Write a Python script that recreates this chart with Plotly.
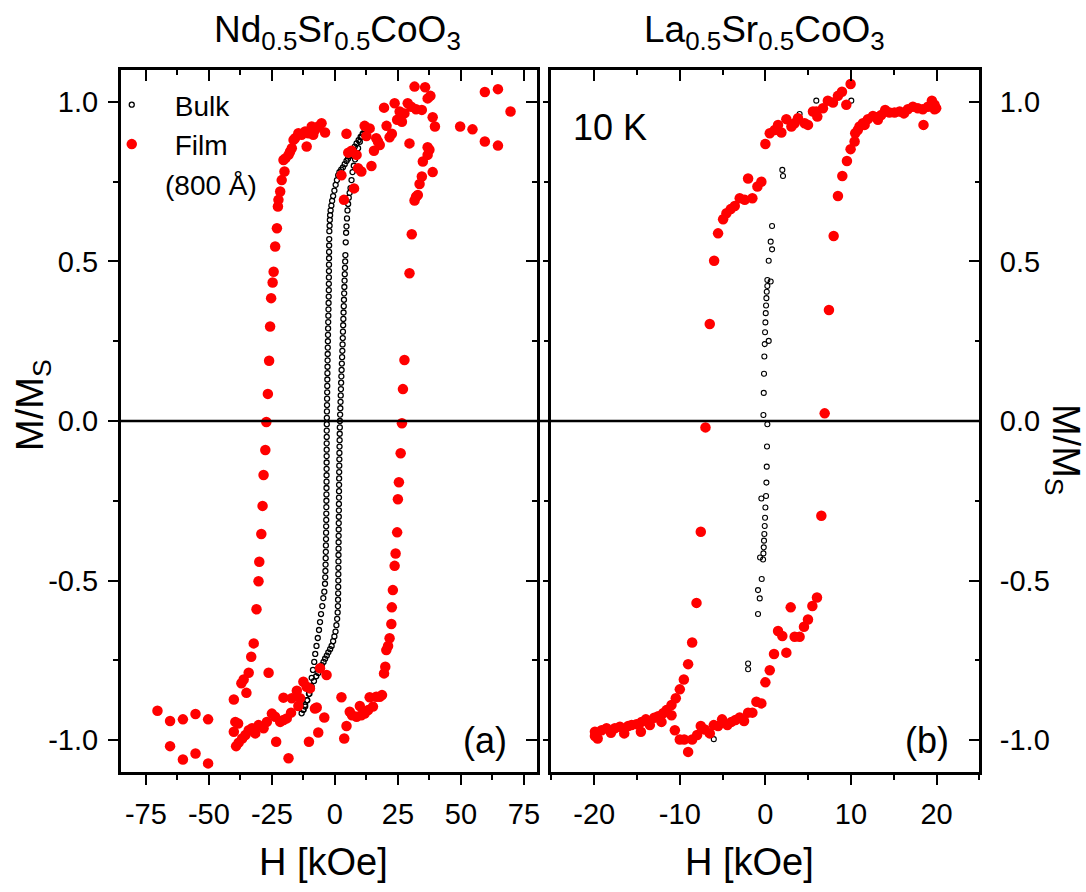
import plotly.graph_objects as go

# ---------------- data ----------------
# Panel (a): Nd0.5Sr0.5CoO3, bulk loop (descending branch then ascending branch)
bulk_a_x = [
    11.8, 11.0, 10.2, 9.4, 8.6, 7.9, 7.2, 6.5, 5.8, 5.2, 4.6, 3.9, 3.2, 2.5, 1.8, 1.3, 0.8, 0.3, -0.2, -0.7,
    -1.1, -1.4, -1.7, -1.9, -2.0, -2.1, -2.2,
    -2.25, -2.28, -2.30, -2.32, -2.34, -2.36, -2.38, -2.40, -2.42, -2.45, -2.50, -2.55, -2.60, -2.65, -2.70,
    -2.74, -2.78, -2.82, -2.86, -2.90, -2.93, -2.96, -3.00, -3.03, -3.06, -3.10, -3.13, -3.16, -3.19, -3.21,
    -3.23, -3.24, -3.25, -3.26, -3.27, -3.28, -3.29, -3.30, -3.31, -3.33, -3.35, -3.37, -3.39, -3.41, -3.43,
    -3.46, -3.49, -3.52, -3.56, -3.60, -3.65, -3.70, -3.76, -3.83, -3.92,
    -4.2, -4.6, -5.0, -5.5, -5.9, -6.3, -6.8, -7.3, -7.8, -8.2, -8.7, -9.2, -9.7, -10.3, -11.0, -11.8, -12.5,
    -13.2,
    -12.5, -11.8, -11.0, -10.1, -9.2, -8.3, -7.4, -6.6, -5.9, -5.2, -4.5, -3.9, -3.2, -2.6, -1.9, -1.3, -0.7,
    -0.2, 0.25, 0.6, 0.9, 1.1, 1.2, 1.25, 1.3,
    1.32, 1.35, 1.37, 1.39, 1.41, 1.43, 1.45, 1.47, 1.49, 1.51, 1.53, 1.56, 1.58, 1.60, 1.62, 1.64, 1.66,
    1.68, 1.71, 1.74, 1.77, 1.80, 1.84, 1.88, 1.92, 1.96, 2.00, 2.08, 2.16, 2.24, 2.32, 2.40, 2.48, 2.56,
    2.66, 2.76, 2.86, 2.96, 3.05, 3.13, 3.20, 3.28, 3.36, 3.44, 3.52, 3.60, 3.68, 3.76, 3.84, 3.92, 4.00,
    4.08, 4.16,
    4.3, 4.45, 4.6, 4.8, 5.0, 5.25, 5.5, 5.85, 6.2, 6.6, 7.0, 7.5, 8.0, 8.5, 9.2, 9.9, 10.6, 11.2,
]
bulk_a_y = [
    0.910, 0.900, 0.890, 0.880, 0.870, 0.860, 0.850, 0.840, 0.830, 0.822, 0.815, 0.805, 0.795, 0.788, 0.780,
    0.770, 0.755, 0.740, 0.722, 0.705, 0.690, 0.675, 0.660, 0.645, 0.630, 0.612, 0.595,
    0.57, 0.55, 0.53, 0.51, 0.49, 0.47, 0.45, 0.43, 0.41, 0.39, 0.37, 0.35, 0.33, 0.31, 0.29, 0.27, 0.25,
    0.23, 0.21, 0.19, 0.17, 0.15, 0.13, 0.11, 0.09, 0.07, 0.05, 0.03, 0.01, -0.01, -0.03, -0.05, -0.07,
    -0.09, -0.11, -0.13, -0.15, -0.17, -0.19, -0.21, -0.23, -0.25, -0.27, -0.29, -0.31, -0.33, -0.35, -0.37,
    -0.39, -0.41, -0.43, -0.45, -0.47, -0.49, -0.51,
    -0.535, -0.555, -0.58, -0.605, -0.63, -0.655, -0.68, -0.705, -0.73, -0.755, -0.78, -0.805, -0.83, -0.855,
    -0.875, -0.895, -0.905, -0.916,
    -0.905, -0.89, -0.875, -0.855, -0.833, -0.815, -0.80, -0.79, -0.775, -0.765, -0.755, -0.745, -0.735,
    -0.725, -0.715, -0.705, -0.69, -0.675, -0.66, -0.64, -0.62, -0.60, -0.58, -0.56, -0.54,
    -0.52, -0.50, -0.48, -0.46, -0.44, -0.42, -0.40, -0.38, -0.36, -0.34, -0.32, -0.30, -0.28, -0.26, -0.24,
    -0.22, -0.20, -0.18, -0.16, -0.14, -0.12, -0.10, -0.08, -0.06, -0.04, -0.02, 0.00, 0.02, 0.04, 0.06,
    0.08, 0.10, 0.12, 0.14, 0.16, 0.18, 0.20, 0.22, 0.24, 0.26, 0.28, 0.30, 0.32, 0.34, 0.36, 0.38, 0.40,
    0.42, 0.44, 0.46, 0.48, 0.50, 0.52,
    0.56, 0.59, 0.61, 0.635, 0.66, 0.68, 0.70, 0.715, 0.73, 0.755, 0.78, 0.80, 0.82, 0.835, 0.855, 0.875,
    0.89, 0.90,
]

# Panel (a): film (800 A)
film_a_x = [
    -14.5, -15.8, -16.4, -13.2, -11.8, -10.5, -9.2, -7.9, -6.6, -5.3, -3.9, -8.6, -11.2, -17.1, -17.8, -18.4,
    -19.7, -20.4, -20.0, -21.1, -21.7, -22.4, -22.6, -23.0, -23.7, -24.3, -24.7, -25.3, -25.7, -26.1, -26.6,
    -27.2, -27.6, -28.3, -28.7, -29.2, -30.0, -30.3, -31.1, -32.2, -33.2, -34.2, -26.3, -36.2, -37.1, -35.1,
    -40.1, -39.5, -38.4, -40.1, -39.2, -38.2, -36.8, -35.5, -34.2, -32.9, -31.6, -30.3, -28.3, -27.0, -25.0,
    -23.7, -21.7, -20.4, -19.1, -17.4, -20.4, -17.1, -15.1, -13.8, -14.5, -12.5, -11.2, -9.9, -7.9, -7.2,
    -5.9, -3.3, -4.2, -6.6, -10.3, -23.3, -18.4,
    2.6, 4.6, 3.7, 5.9, 6.8, 8.6, 9.9, 10.5, 11.8, 13.2, 13.8, 15.1, 16.4, 17.8, 18.7, 19.5, 20.0, 20.4,
    21.1, 21.7, 22.4, 22.6, 23.0, 23.7, 24.1, 24.7, 25.0, 25.4, 26.1, 26.6,
    -70.4, -65.4, -60.3, -55.3, -50.3, -65.4, -60.3, -55.3, -50.3,
    27.0, 27.6, 29.6, 30.5, 31.6, 32.2, 32.9, 33.6, 34.5, 38.8, 34.9, 36.8, 37.5, 36.8, 29.6, 39.7, 38.8,
    34.5, 32.2, 30.3, 28.9, 27.6, 25.7, 26.6, 24.7, 22.6, 21.7, 20.5, 19.5, 23.7, 31.6, 35.8, 36.8, 37.9,
    49.7, 54.6, 59.5, 64.7, 59.5, 64.7, 69.7,
    17.8, 16.4, 17.1, 15.5, 14.5, 13.8, 11.8, 12.5, 10.5, 9.2, 7.6, 8.6, 6.6, 5.3, 4.6, 2.6, 3.6,
]
film_a_y = [
    0.902, 0.886, 0.881, 0.897, 0.907, 0.902, 0.923, 0.912, 0.923, 0.933, 0.904, 0.897, 0.860, 0.855, 0.844,
    0.834, 0.823, 0.818, 0.782, 0.755, 0.719, 0.693, 0.672, 0.604, 0.547, 0.468, 0.434, 0.385, 0.296, 0.189,
    0.085, -0.003, -0.091, -0.169, -0.266, -0.354, -0.441, -0.502, -0.590, -0.697, -0.739, -0.789, -0.789,
    -0.810, -0.822, -0.852, -0.873, -0.943, -0.948, -0.974, -1.019, -1.008, -0.995, -0.984, -0.969, -0.963,
    -0.979, -0.953, -0.963, -0.943, -0.917, -0.927, -0.943, -0.937, -0.932, -0.914, -0.867, -0.869, -0.845,
    -0.869, -0.893, -0.817, -0.833, -0.838, -0.901, -0.898, -0.775, -0.796, -0.929, -0.976, -1.005, -1.005,
    -1.057,
    -0.866, -0.956, -0.995, -0.911, -0.922, -0.927, -0.893, -0.922, -0.917, -0.906, -0.866, -0.895, -0.864,
    -0.864, -0.859, -0.791, -0.770, -0.718, -0.705, -0.681, -0.636, -0.584, -0.530, -0.454, -0.415, -0.349,
    -0.245, -0.192, -0.101, -0.007,
    -0.908, -0.940, -0.935, -0.918, -0.935, -1.019, -1.061, -1.042, -1.073,
    0.100, 0.191, 0.463, 0.585, 0.691, 0.703, 0.708, 0.743, 0.766, 0.780, 0.813, 0.834, 0.850, 0.858, 0.870,
    0.923, 0.952, 0.975, 0.977, 0.985, 0.996, 0.964, 0.970, 0.938, 0.944, 0.900, 0.889, 0.925, 0.982, 0.996,
    1.048, 1.046, 1.011, 1.019,
    0.923, 0.914, 0.876, 0.863, 1.031, 1.040, 0.970,
    0.865, 0.886, 0.876, 0.847, 0.799, 0.917, 0.925, 0.893, 0.782, 0.792, 0.729, 0.834, 0.847, 0.841, 0.900,
    0.770, 0.693,
]

# Panel (b): La0.5Sr0.5CoO3 bulk
bulk_b_x = [
    5.95, 10.04, 4.0, 1.98, 2.06, 0.78, 0.62, 0.78, 0.39, 0.23, 0.62, 0.23, 0.16, 0.12, 0.08, 0.04, 0.0,
    -0.04, 0.39, -0.08, -0.12, -0.16, -0.19, -0.23, 0.23, 0.19, 0.16, 0.12, 0.08, -0.47, 0.0, -0.04, -0.08,
    -0.12, -0.16, -0.19, -0.23, -0.62, -0.27, -0.43, -0.86, -0.66, -0.86, -2.02, -2.02, -6.03,
]
bulk_b_y = [
    1.004, 1.004, 0.962, 0.787, 0.768, 0.611, 0.562, 0.538, 0.502, 0.442, 0.437, 0.423, 0.405, 0.385, 0.362,
    0.338, 0.309, 0.278, 0.251, 0.241, 0.202, 0.148, 0.088, 0.019, -0.010, -0.080, -0.143, -0.193, -0.235,
    -0.243, -0.271, -0.303, -0.329, -0.354, -0.375, -0.396, -0.415, -0.428, -0.434, -0.495, -0.530, -0.556,
    -0.605, -0.760, -0.778, -0.997,
]

# Panel (b): film at 10 K
film_b_x = [
    9.96, 8.95, 8.48, 7.9, 7.3, 9.46, 6.73, 5.95, 5.56, 6.07, 4.98, 4.59, 3.81, 3.42, 3.04, 2.45, 1.87, 1.48,
    1.09, 0.51, 0.0, -0.47, -0.93, -2.02, -1.52, -2.41, -3.0, -3.58, -4.05, -4.55, -4.94, -5.53, -5.99, -6.5,
    -7.0, -7.55, -8.05, -8.56, -9.03, -9.53, -10.0, -10.47, -10.97, -10.97, -11.56, -11.95, -12.14, -12.53,
    -12.99, -13.5, -13.97, -14.47, -14.55, -15.06, -15.64, -16.03, -16.5, -17.0, -17.59, -18.05, -18.56,
    -19.14, -19.6, -19.92, -19.92,
    -10.58, -10.0, -9.49, -9.03, -8.56, -7.98, -7.55, -7.08, -6.5, -6.03, -5.53, -5.06, -4.44, -3.97, -3.5,
    -3.0, -2.49, -2.02, -1.52, -1.05, -0.47, 0.0, 0.51, 1.01, 1.48, 1.98, 2.45, 2.96, 3.42, 4.0, 4.51, 4.98,
    5.49, 6.03, 6.54, 6.93, 7.43, 7.98, 8.48, 8.99, 9.53, 9.96, 10.43, 10.5, 11.0, 11.4, 11.98, 12.57, 12.96,
    13.54, 14.0, 14.5, 15.1, 15.7, 16.19, 16.65, 17.24, 17.82, 18.4, 18.48, 18.99, 19.46, 19.77, 19.96,
    19.77, 10.8, 11.6, 13.15,
]
film_b_y = [
    1.056, 1.032, 1.019, 0.998, 1.004, 0.991, 0.980, 0.970, 0.970, 0.954, 0.928, 0.933, 0.949, 0.933, 0.923,
    0.946, 0.904, 0.928, 0.912, 0.902, 0.868, 0.750, 0.735, 0.760, 0.698, 0.693, 0.698, 0.674, 0.664, 0.651,
    0.632, 0.588, 0.502, 0.304, -0.020, -0.347, -0.570, -0.694, -0.762, -0.810, -0.841, -0.869, -0.890,
    -0.922, -0.906, -0.916, -0.943, -0.925, -0.930, -0.953, -0.935, -0.943, -0.974, -0.950, -0.953, -0.956,
    -0.979, -0.958, -0.963, -0.977, -0.963, -0.969, -0.995, -0.974, -0.987,
    -0.969, -0.998, -0.998, -1.037, -0.998, -0.984, -0.956, -0.967, -0.979, -0.953, -0.956, -0.935, -0.953,
    -0.943, -0.937, -0.929, -0.940, -0.914, -0.914, -0.880, -0.885, -0.819, -0.781, -0.730, -0.658, -0.674,
    -0.726, -0.584, -0.676, -0.676, -0.645, -0.622, -0.580, -0.553, -0.297, 0.024, 0.348, 0.580, 0.705, 0.768,
    0.815, 0.852, 0.876, 0.902, 0.923, 0.933, 0.946, 0.956, 0.952, 0.959, 0.975, 0.967, 0.967, 0.970, 0.964,
    0.977, 0.985, 0.980, 0.977, 0.928, 0.985, 1.004, 0.991, 0.980, 0.977, 0.912, 0.928, 0.944,
]

# ticks
xa_ticks = [-75, -50, -25, 0, 25, 50, 75]
xa_labels = ["-75", "-50", "-25", "0", "25", "50", "75"]
xa_minor = [-62.5, -37.5, -12.5, 12.5, 37.5, 62.5]
xb_ticks = [-20, -10, 0, 10, 20]
xb_labels = ["-20", "-10", "0", "10", "20"]
xb_minor = [-25, -15, -5, 5, 15, 25]
y_ticks = [-1.0, -0.5, 0.0, 0.5, 1.0]
y_labels = ["-1.0", "-0.5", "0.0", "0.5", "1.0"]
y_minor = [-0.75, -0.25, 0.25, 0.75]

# ---------------- figure ----------------
W, H = 1086, 892
FONT = "Liberation Sans"


def px(x):
    return x / W


def py(y):
    return 1 - y / H


dom_a = [121 / W, 538 / W]
dom_b = [553 / W, 982 / W]
dom_y = [(H - 772) / H, (H - 70) / H]

fig = go.Figure()
fig.add_trace(go.Scatter(x=bulk_a_x, y=bulk_a_y, xaxis="x", yaxis="y", mode="markers", name="Bulk",
                         legendgroup="g1",
                         marker=dict(symbol="circle-open", size=5, color="black", line=dict(width=1.3))))
fig.add_trace(go.Scatter(x=film_a_x, y=film_a_y, xaxis="x", yaxis="y", mode="markers", name="Film",
                         legendgroup="g2",
                         marker=dict(symbol="circle", size=10.5, color="#ff0000")))
fig.add_trace(go.Scatter(x=bulk_b_x, y=bulk_b_y, xaxis="x2", yaxis="y2", mode="markers", showlegend=False,
                         marker=dict(symbol="circle-open", size=5, color="black", line=dict(width=1.1))))
fig.add_trace(go.Scatter(x=film_b_x, y=film_b_y, xaxis="x2", yaxis="y2", mode="markers", showlegend=False,
                         marker=dict(symbol="circle", size=10.5, color="#ff0000")))
# empty traces so that the mirrored (top / right) axes are drawn
for xa, ya in [("x3", "y"), ("x", "y3"), ("x4", "y2"), ("x2", "y4")]:
    fig.add_trace(go.Scatter(x=[], y=[], xaxis=xa, yaxis=ya, mode="markers", showlegend=False,
                             hoverinfo="skip"))

common = dict(showline=True, linewidth=2.5, linecolor="black", showgrid=False, zeroline=False,
              tickwidth=2, tickcolor="black", tickfont=dict(family=FONT, size=29, color="black"),
              tickmode="array")


def minor(vals, ticks):
    return dict(tickmode="array", tickvals=vals, ticks=ticks, ticklen=5, tickwidth=2, tickcolor="black",
                showgrid=False)


fig.update_layout(
    width=W, height=H, margin=dict(l=0, r=0, t=0, b=0),
    paper_bgcolor="white", plot_bgcolor="rgba(0,0,0,0)",
    font=dict(family=FONT, color="black"),
    xaxis=dict(domain=dom_a, anchor="y", range=[-85, 80], tickvals=xa_ticks, ticktext=xa_labels,
               ticks="outside", ticklen=10, ticklabelstandoff=4, minor=minor(xa_minor, "outside"), **common),
    xaxis3=dict(overlaying="x", anchor="y", side="top", range=[-85, 80], tickvals=xa_ticks,
                ticks="inside", ticklen=11, showticklabels=False, minor=minor(xa_minor, "inside"), **common),
    yaxis=dict(domain=dom_y, anchor="x", range=[-1.1, 1.1], tickvals=y_ticks, ticktext=y_labels,
               ticks="outside", ticklen=10, ticklabelstandoff=4, minor=minor(y_minor, "outside"), **common),
    yaxis3=dict(overlaying="y", anchor="x", side="right", range=[-1.1, 1.1], tickvals=y_ticks,
                ticks="inside", ticklen=11, showticklabels=False, minor=minor(y_minor, "inside"), **common),
    xaxis2=dict(domain=dom_b, anchor="y2", range=[-25, 25], tickvals=xb_ticks, ticktext=xb_labels,
                ticks="outside", ticklen=10, ticklabelstandoff=4, minor=minor(xb_minor, "outside"), **common),
    xaxis4=dict(overlaying="x2", anchor="y2", side="top", range=[-25, 25], tickvals=xb_ticks,
                ticks="inside", ticklen=11, showticklabels=False, minor=minor(xb_minor, "inside"), **common),
    yaxis2=dict(domain=dom_y, anchor="x2", range=[-1.1, 1.1], tickvals=y_ticks,
                ticks="outside", ticklen=6, showticklabels=False, minor=minor(y_minor, "outside"), **common),
    yaxis4=dict(overlaying="y2", anchor="x2", side="right", range=[-1.1, 1.1], tickvals=y_ticks,
                ticktext=y_labels, ticks="inside", ticklen=11, ticklabelstandoff=12,
                minor=minor(y_minor, "inside"), **common),
    showlegend=True,
    legend=dict(x=px(89), y=py(80), xanchor="left", yanchor="top", bgcolor="rgba(0,0,0,0)",
                font=dict(family=FONT, size=28, color="black"), itemwidth=76, tracegroupgap=4,
                traceorder="normal"),
)

# zero line across both panels
fig.add_shape(type="line", xref="paper", yref="y", x0=121 / W, x1=982 / W, y0=0, y1=0,
              line=dict(color="black", width=2.5))

ann = [
    dict(text="Nd<sub>0.5</sub>Sr<sub>0.5</sub>CoO<sub>3</sub>", x=px(338), y=py(32),
         font=dict(family=FONT, size=37)),
    dict(text="La<sub>0.5</sub>Sr<sub>0.5</sub>CoO<sub>3</sub>", x=px(767), y=py(32),
         font=dict(family=FONT, size=37)),
    dict(text="H [kOe]", x=px(324), y=py(862), font=dict(family=FONT, size=38)),
    dict(text="H [kOe]", x=px(752), y=py(862), font=dict(family=FONT, size=38)),
    dict(text="M/M<sub>S</sub>", x=px(33), y=py(405), textangle=-90, font=dict(family=FONT, size=38)),
    dict(text="M/M<sub>S</sub>", x=px(1066), y=py(450), textangle=90, font=dict(family=FONT, size=38)),
    dict(text="(800 Å)", x=px(212), y=py(185), font=dict(family=FONT, size=28)),
    dict(text="10 K", x=px(612), y=py(128), font=dict(family=FONT, size=36)),
    dict(text="(a)", x=px(486), y=py(740), font=dict(family=FONT, size=36)),
    dict(text="(b)", x=px(930), y=py(740), font=dict(family=FONT, size=36)),
]
for a in ann:
    fig.add_annotation(xref="paper", yref="paper", showarrow=False, xanchor="center", yanchor="middle",
                       **a)

fig.write_html("out.html")
